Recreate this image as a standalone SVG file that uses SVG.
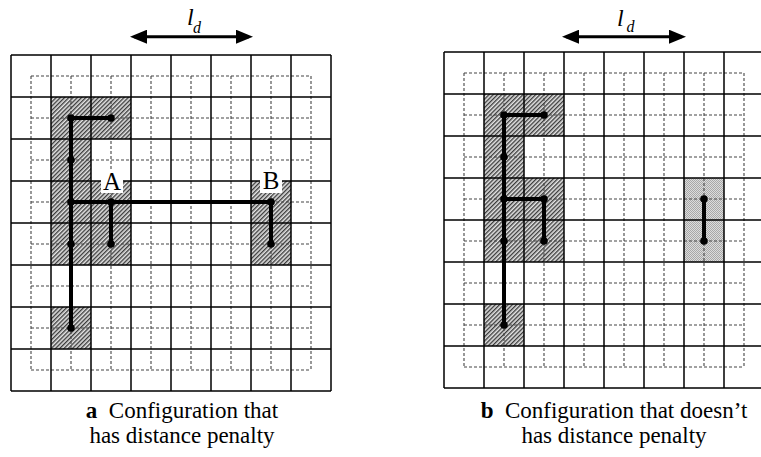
<svg xmlns="http://www.w3.org/2000/svg" xmlns:xlink="http://www.w3.org/1999/xlink" width="761" height="457" viewBox="0 0 761 457">
<style>
.solid{fill:none;stroke:#000;stroke-width:1.5}
.dash{fill:none;stroke:#444;stroke-width:1.1;stroke-dasharray:3 2}
.hatch{fill:url(#hatch)}
.dots{fill:url(#dots)}
.bond{fill:none;stroke:#000;stroke-width:4;stroke-linecap:round}
.node circle{fill:#000}
.lbl{font-family:"Liberation Serif","Times New Roman",serif;font-size:25px;fill:#000}
.ld{font-family:"Liberation Serif","Times New Roman",serif;font-style:italic;fill:#000}
.cap{font-family:"Liberation Serif","Times New Roman",serif;font-size:23px;fill:#000}
.dim{fill:none;stroke:#000;stroke-width:3}
</style>
<defs>
<pattern id="hatch" patternUnits="userSpaceOnUse" width="3" height="3" patternTransform="rotate(45)">
<rect width="3" height="3" fill="#e4e4e4"/>
<line x1="0.7" y1="0" x2="0.7" y2="3" stroke="#333" stroke-width="1.3"/>
</pattern>
<pattern id="dots" patternUnits="userSpaceOnUse" width="2" height="2">
<rect width="2" height="2" fill="#dcdcdc"/>
<rect width="1" height="1" fill="#a8a8a8"/>
<rect x="1" y="1" width="1" height="1" fill="#a8a8a8"/>
</pattern>
<marker id="ah" viewBox="0 0 17 14" refX="13" refY="7" markerWidth="17" markerHeight="14" markerUnits="userSpaceOnUse" orient="auto-start-reverse">
<path d="M0 0L17 7L0 14z" fill="#000"/>
</marker>
<g id="dgrid">
<path class="dash" d="M31 76V370M71 76V370M111 76V370M151 76V370M191 76V370M231 76V370M271 76V370M311 76V370M31 76H311M31 118H311M31 160H311M31 202H311M31 244H311M31 286H311M31 328H311M31 370H311"/>
</g>
<g id="sgrid">
<path class="solid" d="M11 55V391M51 55V391M91 55V391M131 55V391M171 55V391M211 55V391M251 55V391M291 55V391M331 55V391M11 55H331M11 97H331M11 139H331M11 181H331M11 223H331M11 265H331M11 307H331M11 349H331M11 391H331"/>
</g>
<g id="chain">
<rect class="hatch" x="51" y="97" width="80" height="42"/>
<rect class="hatch" x="51" y="139" width="40" height="42"/>
<rect class="hatch" x="51" y="181" width="80" height="84"/>
<rect class="hatch" x="51" y="307" width="40" height="42"/>
</g>
</defs>
<rect width="761" height="457" fill="#fff"/>

<g id="panel-a">
<use xlink:href="#chain"/>
<rect class="hatch" x="251" y="181" width="40" height="84"/>
<use xlink:href="#dgrid"/>
<use xlink:href="#sgrid"/>
<g id="a-connectors">
<path class="bond" d="M71 118H111M71 118V328M71 202H271M111 202V244M271 202V244"/>
</g>
<g id="a-n1" class="node"><circle cx="71" cy="118" r="3.8"/></g>
<g id="a-n2" class="node"><circle cx="111" cy="118" r="3.8"/></g>
<g id="a-n3" class="node"><circle cx="71" cy="160" r="3.8"/></g>
<g id="a-n4" class="node"><circle cx="71" cy="202" r="3.8"/></g>
<g id="a-n5" class="node"><circle cx="111" cy="202" r="3.8"/></g>
<g id="a-n6" class="node"><circle cx="71" cy="244" r="3.8"/></g>
<g id="a-n7" class="node"><circle cx="111" cy="244" r="3.8"/></g>
<g id="a-n8" class="node"><circle cx="71" cy="328" r="3.8"/></g>
<g id="a-n9" class="node"><circle cx="271" cy="202" r="3.8"/></g>
<g id="a-n10" class="node"><circle cx="271" cy="244" r="3.8"/></g>
<g id="label-A">
<rect x="101" y="170" width="22" height="23" fill="#fff"/>
<text class="lbl" x="112" y="190" text-anchor="middle">A</text>
</g>
<g id="label-B">
<rect x="260" y="169" width="22" height="24" fill="#fff"/>
<text class="lbl" x="271" y="189" text-anchor="middle">B</text>
</g>
</g>

<g id="panel-b" transform="translate(433,-3)">
<use xlink:href="#chain"/>
<rect class="dots" x="251" y="181" width="40" height="84"/>
<use xlink:href="#dgrid"/>
<use xlink:href="#sgrid"/>
<g id="b-connectors">
<path class="bond" d="M71 118H111M71 118V328M71 202H111M111 202V244M271 202V244"/>
</g>
<g id="b-n1" class="node"><circle cx="71" cy="118" r="3.8"/></g>
<g id="b-n2" class="node"><circle cx="111" cy="118" r="3.8"/></g>
<g id="b-n3" class="node"><circle cx="71" cy="160" r="3.8"/></g>
<g id="b-n4" class="node"><circle cx="71" cy="202" r="3.8"/></g>
<g id="b-n5" class="node"><circle cx="111" cy="202" r="3.8"/></g>
<g id="b-n6" class="node"><circle cx="71" cy="244" r="3.8"/></g>
<g id="b-n7" class="node"><circle cx="111" cy="244" r="3.8"/></g>
<g id="b-n8" class="node"><circle cx="71" cy="328" r="3.8"/></g>
<g id="b-n9" class="node"><circle cx="271" cy="202" r="3.8"/></g>
<g id="b-n10" class="node"><circle cx="271" cy="244" r="3.8"/></g>
</g>

<g id="dimensions">
<line class="dim" x1="134" y1="36.7" x2="249" y2="36.7" marker-start="url(#ah)" marker-end="url(#ah)"/>
<text class="ld" x="187" y="25" font-size="24">l</text>
<text class="ld" x="193" y="33" font-size="16">d</text>
<line class="dim" x1="566" y1="36.7" x2="682" y2="36.7" marker-start="url(#ah)" marker-end="url(#ah)"/>
<text class="ld" x="617" y="26" font-size="24">l</text>
<text class="ld" x="626.5" y="32" font-size="16">d</text>
</g>

<g id="captions">
<text class="cap" x="182" y="418" text-anchor="middle"><tspan font-weight="bold">a</tspan>&#160; Configuration that</text>
<text class="cap" x="182" y="442.5" text-anchor="middle">has distance penalty</text>
<text class="cap" x="614" y="418" text-anchor="middle"><tspan font-weight="bold">b</tspan>&#160; Configuration that doesn’t</text>
<text class="cap" x="614" y="442.5" text-anchor="middle">has distance penalty</text>
</g>
</svg>
